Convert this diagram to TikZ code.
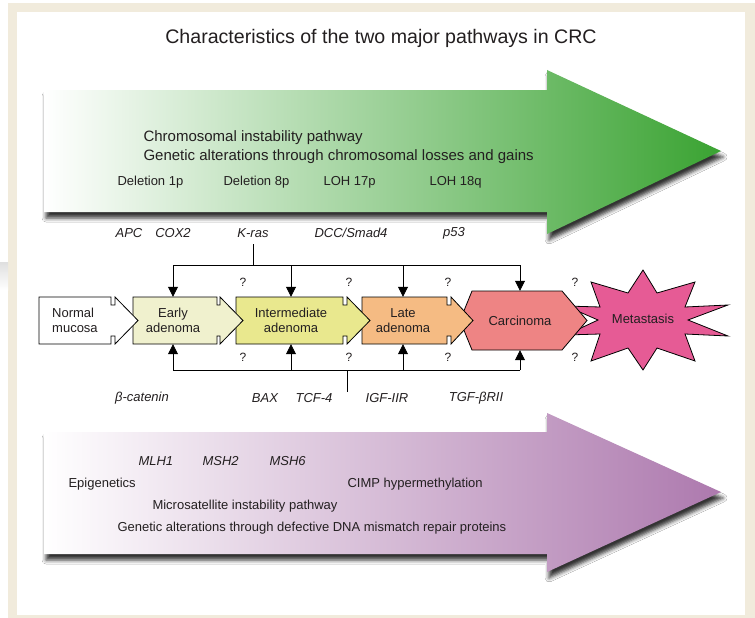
\documentclass[tikz,border=0pt]{standalone}
\usepackage{fontspec}
\setmainfont{Liberation Sans}
\usepackage{xcolor}
\usepackage{tikz}
\usetikzlibrary{shapes,arrows.meta,positioning,shadows,shadows.blur,calc}
\definecolor{framebeige}{HTML}{F1EBDC}
\definecolor{cinpgreen}{HTML}{3AA332}
\definecolor{msipurple}{HTML}{AD79AE}
\definecolor{earlyfill}{HTML}{F0F1CE}
\definecolor{interfill}{HTML}{E9E88E}
\definecolor{latefill}{HTML}{F5BB83}
\definecolor{carcfill}{HTML}{EE8484}
\definecolor{metafill}{HTML}{E65B95}
\definecolor{inkgray}{HTML}{231F20}

\tikzset{
  stage/.style={minimum height=47pt, inner sep=0pt, align=center, text=inkgray,
    font=\fontsize{13}{15}\selectfont},
  gene/.style={text=inkgray, font=\fontsize{13}{15}\selectfont\itshape},
  query/.style={text=inkgray, font=\fontsize{12}{14}\selectfont},
  pathtext/.style={anchor=west, text=inkgray, font=\fontsize{15}{18}\selectfont},
  smalltext/.style={anchor=west, text=inkgray, font=\fontsize{13}{15}\selectfont},
  link/.style={line width=0.8pt, draw=black,
    -{Triangle[width=10pt,length=10pt,fill=black]}},
  bigshadow/.style={blur shadow={shadow xshift=2pt, shadow yshift=-6pt,
    shadow blur radius=4pt, shadow opacity=80}}
}

\begin{document}
\begin{tikzpicture}[x=1pt, y=-1pt]
    \useasboundingbox (0,0) rectangle (755,618);
    % Frame
    \fill[white] (0,0) rectangle (755,618);
    \fill[framebeige] (8,3) rectangle (755,618);
    \fill[white] (17,12) rectangle (745,615);
    \shade[top color=gray!25, bottom color=white] (0,262) rectangle (8,290);

    % Title
    \node[text=inkgray, font=\fontsize{19.6}{22}\selectfont] (title) at (381,38)
        {Characteristics of the two major pathways in CRC};

    % Chromosomal instability arrow
    \shade[left color=white, right color=cinpgreen, bigshadow]
        (44,90) -- (547,90) -- (547,70) -- (721,151) -- (547,234) -- (547,212) -- (44,212) -- cycle;
    \node[pathtext] (cin) at (140,138) {Chromosomal instability pathway};
    \node[pathtext] (cingen) at (140,157) {Genetic alterations through chromosomal losses and gains};
    \node[smalltext] (del1p) at (114,182) {Deletion 1p};
    \node[smalltext] (del8p) at (220,182) {Deletion 8p};
    \node[smalltext] (loh17p) at (320,182) {LOH 17p};
    \node[smalltext] (loh18q) at (426,182) {LOH 18q};

    % Microsatellite instability arrow
    \shade[left color=white, right color=msipurple, bigshadow]
        (44,432) -- (547,432) -- (547,413) -- (721,492) -- (547,572) -- (547,554) -- (44,554) -- cycle;
    \node[gene, anchor=west] (mlh1) at (135,461) {MLH1};
    \node[gene, anchor=west] (msh2) at (199,461) {MSH2};
    \node[gene, anchor=west] (msh6) at (266,461) {MSH6};
    \node[smalltext] (epi) at (65,484) {Epigenetics};
    \node[smalltext] (cimp) at (344,484) {CIMP hypermethylation};
    \node[smalltext] (msi) at (149,506) {Microsatellite instability pathway};
    \node[smalltext] (msigen) at (114,528) {Genetic alterations through defective DNA mismatch repair proteins};

    % Metastasis
    \draw[fill=metafill, line width=0.8pt]
        (643,270) -- (657,293) -- (695,282) -- (685,307) -- (728,305) -- (688,320)
        -- (728,336) -- (685,334) -- (695,361) -- (657,348) -- (643,370) -- (628,348)
        -- (591,361) -- (600,334) -- (566,335) -- (598,320) -- (566,306) -- (600,307)
        -- (591,282) -- (628,293) -- cycle;
    \node[stage] (meta) at (643,319) {Metastasis};

    % Carcinoma
    \draw[fill=carcfill, line width=0.8pt]
        (460,320.5) -- (472,291) -- (562,291) -- (587,320.5) -- (562,350) -- (472,350) -- cycle;
    \node[stage, minimum height=59pt] (carc) at (520,320.5) {Carcinoma};

    % Late adenoma
    \draw[fill=latefill, line width=0.8pt]
        (362,297) -- (447,297) -- (447,305) -- (451,305) -- (451,297) -- (473,320.5)
        -- (451,344) -- (451,336) -- (447,336) -- (447,344) -- (362,344) -- cycle;
    \node[stage] (late) at (403,320.5) {Late\\adenoma};

    % Intermediate adenoma
    \draw[fill=interfill, line width=0.8pt]
        (236,297) -- (343,297) -- (343,305) -- (347,305) -- (347,297) -- (370,320.5)
        -- (347,344) -- (347,336) -- (343,336) -- (343,344) -- (236,344) -- cycle;
    \node[stage] (inter) at (291,320.5) {Intermediate\\adenoma};

    % Early adenoma
    \draw[fill=earlyfill, line width=0.8pt]
        (133,297) -- (217,297) -- (217,305) -- (220,305) -- (220,297) -- (243,320.5)
        -- (220,344) -- (220,336) -- (217,336) -- (217,344) -- (133,344) -- cycle;
    \node[stage] (early) at (173,320.5) {Early\\adenoma};

    % Normal mucosa
    \draw[fill=white, line width=0.8pt]
        (39,297) -- (111,297) -- (111,305) -- (115,305) -- (115,297) -- (138,320.5)
        -- (115,344) -- (115,336) -- (111,336) -- (111,344) -- (39,344) -- cycle;
    \node[stage, align=left, anchor=west] (normal) at (52,320.5) {Normal\\mucosa};

    % Genes above
    \node[gene] (apc) at (129,233) {APC};
    \node[gene] (cox2) at (173,233) {COX2};
    \node[gene] (kras) at (253,233) {K-ras};
    \node[gene] (dcc) at (351,233) {DCC/Smad4};
    \node[gene] (p53) at (454,233) {p53};

    % Genes below
    \node[gene] (bcat) at (142,398) {β-catenin};
    \node[gene] (bax) at (265,398) {BAX};
    \node[gene] (tcf4) at (314,398) {TCF-4};
    \node[gene] (igf) at (387,398) {IGF-IIR};
    \node[gene] (tgf) at (476,398) {TGF-βRII};

    % Upper bracket
    \coordinate (tbar) at (0,265);
    \draw[line width=0.8pt, shorten <=3pt] (kras.south) -- (kras |- tbar);
    \draw[line width=0.8pt] (early |- tbar) -- (carc |- tbar);
    \draw[link] (early |- tbar) -- (early.north);
    \draw[link] (inter |- tbar) -- (inter.north);
    \draw[link] (late |- tbar) -- (late.north);
    \draw[link] (carc |- tbar) -- (carc.north);

    % Lower bracket
    \coordinate (bbar) at (0,370);
    \coordinate (bstem) at (347,392);
    \draw[line width=0.8pt] (bstem |- bbar) -- (bstem);
    \draw[line width=0.8pt] (early |- bbar) -- (carc |- bbar);
    \draw[link] (early |- bbar) -- (early.south);
    \draw[link] (inter |- bbar) -- (inter.south);
    \draw[link] (late |- bbar) -- (late.south);
    \draw[link] (carc |- bbar) -- (carc.south);

    % Question marks
    \node[query] (q1) at (243,282) {?};
    \node[query] (q2) at (349,282) {?};
    \node[query] (q3) at (448,282) {?};
    \node[query] (q4) at (575,282) {?};
    \node[query] (q5) at (243,357) {?};
    \node[query] (q6) at (349,357) {?};
    \node[query] (q7) at (448,357) {?};
    \node[query] (q8) at (575,357) {?};
\end{tikzpicture}
\end{document}
